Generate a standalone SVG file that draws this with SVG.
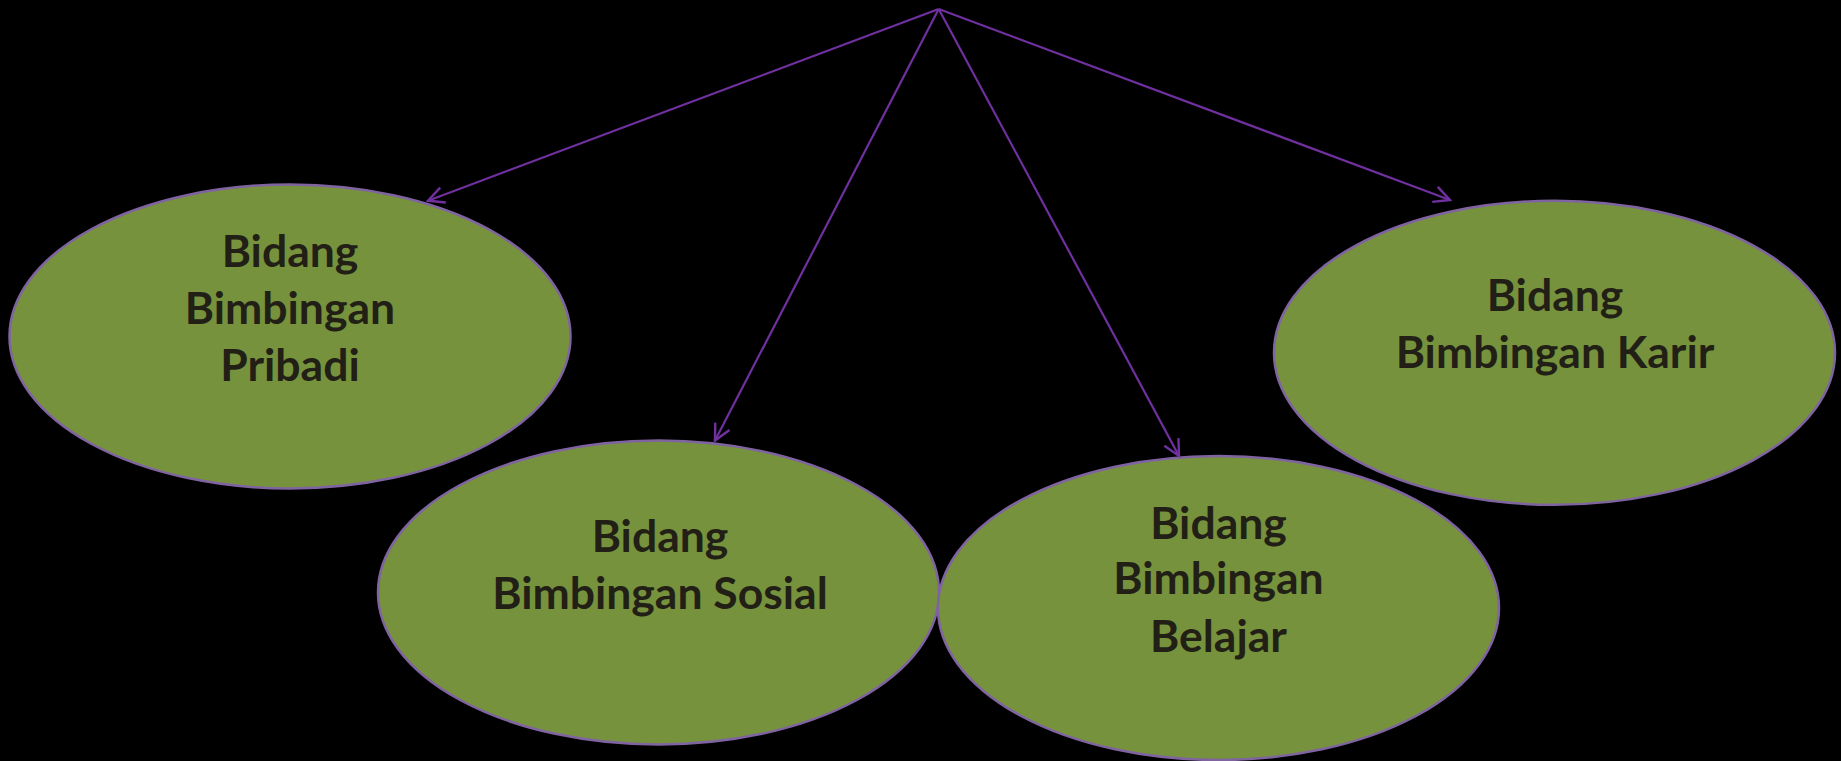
<svg xmlns="http://www.w3.org/2000/svg" width="1841" height="761" viewBox="0 0 1841 761">
<defs>
<style>
.node ellipse{fill:#76923c;stroke:#8064a2;stroke-width:2.5}
.node text{font-family:"Lato","Liberation Sans",sans-serif;font-weight:bold;font-size:44.5px;fill:#221f16;text-anchor:middle}
.conn line{stroke:#7030a0;stroke-width:2.2;fill:none}
</style>
<marker id="arr" viewBox="0 0 20 20" refX="18" refY="10" markerWidth="20" markerHeight="20" markerUnits="userSpaceOnUse" orient="auto">
<path d="M2,2 L18,10 L2,18" fill="none" stroke="#7030a0" stroke-width="2.4"/>
</marker>
</defs>
<rect width="1841" height="761" fill="#000"/>
<g id="node-pribadi" class="node">
<ellipse cx="290" cy="336.5" rx="280.5" ry="152"/>
<text x="290" y="267">Bidang</text>
<text x="290" y="323.5">Bimbingan</text>
<text x="290" y="380.5">Pribadi</text>
</g>
<g id="node-sosial" class="node">
<ellipse cx="658.5" cy="592.5" rx="280.5" ry="152"/>
<text x="660" y="551.5">Bidang</text>
<text x="660" y="608.5">Bimbingan Sosial</text>
</g>
<g id="node-belajar" class="node">
<ellipse cx="1218.5" cy="608" rx="280.5" ry="152"/>
<text x="1218.5" y="538.5">Bidang</text>
<text x="1218.5" y="593.5">Bimbingan</text>
<text x="1218.5" y="651.5">Belajar</text>
</g>
<g id="node-karir" class="node">
<ellipse cx="1554.5" cy="352.8" rx="280.5" ry="152"/>
<text x="1555" y="310.5">Bidang</text>
<text x="1555" y="367.5">Bimbingan Karir</text>
</g>
<g id="connectors" class="conn">
<line x1="938.7" y1="9" x2="428" y2="200.7" marker-end="url(#arr)"/>
<line x1="938.7" y1="9" x2="715" y2="440.5" marker-end="url(#arr)"/>
<line x1="938.7" y1="9" x2="1179" y2="456" marker-end="url(#arr)"/>
<line x1="938.7" y1="9" x2="1450" y2="200" marker-end="url(#arr)"/>
</g>
</svg>
